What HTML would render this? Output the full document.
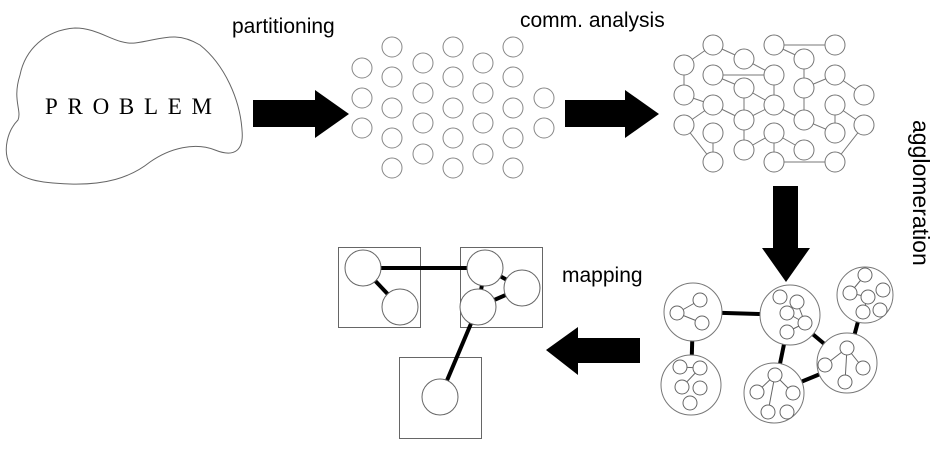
<!DOCTYPE html>
<html><head><meta charset="utf-8"><style>
html,body{margin:0;padding:0;background:#fff;}
svg{display:block;}
text{font-family:"Liberation Sans",Arial,sans-serif;fill:#000;}
</style></head><body>
<svg width="941" height="451" viewBox="0 0 941 451" xmlns="http://www.w3.org/2000/svg">
<rect width="941" height="451" fill="#fff"/>
<path d="M20,75 C25,50 45,30 75,28 C100,28 115,45 135,43 C160,40 175,30 200,45 C225,65 240,100 242,130 C244,150 235,158 215,150 C195,142 170,148 150,162 C130,178 105,185 70,184 C40,183 20,180 10,165 C2,150 8,130 18,120 C22,110 12,100 20,75 Z" fill="none" stroke="#666" stroke-width="1"/>
<text x="45" y="114" style="font-family:'Liberation Serif',serif" font-size="23" textLength="167" lengthAdjust="spacing">PROBLEM</text>

<text x="232" y="33" font-size="21">partitioning</text>
<text x="520" y="27" font-size="21">comm. analysis</text>
<text x="562" y="282" font-size="21">mapping</text>
<text transform="translate(913,120) rotate(90)" x="0" y="0" font-size="23">agglomeration</text>

<polygon points="253,100 315,100 315,90 349,114 315,138 315,127 253,127" fill="#000"/>
<polygon points="565,100 625,100 625,90 659,114 625,138 625,127 565,127" fill="#000"/>
<polygon points="773,186 798,186 798,248 810,248 786,282 762,248 773,248" fill="#000"/>
<polygon points="640,338 578,338 578,327 546,350 578,375 578,363 640,363" fill="#000"/>

<g fill="none" stroke="#888" stroke-width="1">
<circle cx="362" cy="68" r="10"/><circle cx="362" cy="98" r="10"/><circle cx="362" cy="128" r="10"/>
<circle cx="392" cy="47" r="10"/><circle cx="392" cy="77" r="10"/><circle cx="392" cy="108" r="10"/><circle cx="392" cy="138" r="10"/><circle cx="392" cy="168" r="10"/>
<circle cx="423" cy="63" r="10"/><circle cx="423" cy="93" r="10"/><circle cx="423" cy="123" r="10"/><circle cx="423" cy="154" r="10"/>
<circle cx="453" cy="47" r="10"/><circle cx="453" cy="77" r="10"/><circle cx="453" cy="108" r="10"/><circle cx="453" cy="138" r="10"/><circle cx="453" cy="168" r="10"/>
<circle cx="483" cy="63" r="10"/><circle cx="483" cy="93" r="10"/><circle cx="483" cy="123" r="10"/><circle cx="483" cy="154" r="10"/>
<circle cx="513" cy="47" r="10"/><circle cx="513" cy="77" r="10"/><circle cx="513" cy="108" r="10"/><circle cx="513" cy="138" r="10"/><circle cx="513" cy="168" r="10"/>
<circle cx="544" cy="98" r="10"/><circle cx="544" cy="128" r="10"/>
</g>

<g stroke="#777" stroke-width="1">
<line x1="774" y1="45" x2="835" y2="45"/><line x1="684" y1="65" x2="713" y2="45"/><line x1="713" y1="45" x2="744" y2="59"/>
<line x1="744" y1="59" x2="774" y2="75"/><line x1="713" y1="75" x2="774" y2="75"/><line x1="684" y1="65" x2="684" y2="95"/>
<line x1="774" y1="45" x2="804" y2="59"/><line x1="804" y1="59" x2="804" y2="88"/><line x1="804" y1="88" x2="835" y2="75"/>
<line x1="835" y1="75" x2="864" y2="95"/><line x1="713" y1="75" x2="744" y2="88"/><line x1="774" y1="75" x2="774" y2="105"/>
<line x1="744" y1="88" x2="774" y2="105"/><line x1="744" y1="88" x2="744" y2="120"/><line x1="684" y1="95" x2="713" y2="105"/>
<line x1="713" y1="105" x2="744" y2="120"/><line x1="744" y1="120" x2="774" y2="105"/><line x1="774" y1="105" x2="804" y2="120"/>
<line x1="804" y1="88" x2="804" y2="120"/><line x1="835" y1="105" x2="835" y2="133"/><line x1="835" y1="105" x2="864" y2="125"/>
<line x1="804" y1="120" x2="835" y2="133"/><line x1="684" y1="125" x2="713" y2="162"/><line x1="713" y1="133" x2="713" y2="162"/>
<line x1="744" y1="120" x2="744" y2="150"/><line x1="744" y1="150" x2="774" y2="133"/><line x1="774" y1="133" x2="804" y2="150"/>
<line x1="774" y1="133" x2="774" y2="162"/><line x1="774" y1="162" x2="835" y2="162"/><line x1="835" y1="162" x2="864" y2="125"/>
<line x1="684" y1="125" x2="713" y2="105"/>
</g>
<g fill="#fff" stroke="#777" stroke-width="1">
<circle cx="713" cy="45" r="10"/><circle cx="774" cy="45" r="10"/><circle cx="835" cy="45" r="10"/>
<circle cx="684" cy="65" r="10"/><circle cx="744" cy="59" r="10"/><circle cx="804" cy="59" r="10"/>
<circle cx="713" cy="75" r="10"/><circle cx="774" cy="75" r="10"/><circle cx="835" cy="75" r="10"/>
<circle cx="684" cy="95" r="10"/><circle cx="744" cy="88" r="10"/><circle cx="804" cy="88" r="10"/><circle cx="864" cy="95" r="10"/>
<circle cx="713" cy="105" r="10"/><circle cx="774" cy="105" r="10"/><circle cx="835" cy="105" r="10"/>
<circle cx="684" cy="125" r="10"/><circle cx="744" cy="120" r="10"/><circle cx="804" cy="120" r="10"/><circle cx="864" cy="125" r="10"/>
<circle cx="713" cy="133" r="10"/><circle cx="774" cy="133" r="10"/><circle cx="835" cy="133" r="10"/>
<circle cx="744" cy="150" r="10"/><circle cx="804" cy="150" r="10"/>
<circle cx="713" cy="162" r="10"/><circle cx="774" cy="162" r="10"/><circle cx="835" cy="162" r="10"/>
</g>

<g stroke="#000" stroke-width="4">
<line x1="693" y1="312" x2="790" y2="315"/><line x1="693" y1="312" x2="691" y2="385"/>
<line x1="790" y1="315" x2="774" y2="393"/><line x1="790" y1="315" x2="847" y2="363"/>
<line x1="865" y1="295" x2="847" y2="363"/><line x1="774" y1="393" x2="847" y2="363"/>
</g>
<g fill="#fff" stroke="#777" stroke-width="1">
<circle cx="693" cy="312" r="29"/><circle cx="790" cy="315" r="30"/><circle cx="865" cy="295" r="28"/>
<circle cx="691" cy="385" r="30"/><circle cx="774" cy="393" r="30"/><circle cx="847" cy="363" r="30"/>
</g>
<g stroke="#666" stroke-width="1">
<line x1="700" y1="300" x2="677" y2="313"/><line x1="677" y1="313" x2="702" y2="323"/>
<line x1="797" y1="302" x2="805" y2="323"/><line x1="787" y1="313" x2="805" y2="323"/><line x1="787" y1="332" x2="805" y2="323"/>
<line x1="865" y1="275" x2="850" y2="293"/><line x1="850" y1="293" x2="868" y2="297"/><line x1="868" y1="297" x2="863" y2="312"/>
<line x1="680" y1="367" x2="700" y2="368"/><line x1="700" y1="368" x2="682" y2="387"/>
<line x1="775" y1="375" x2="757" y2="392"/><line x1="775" y1="375" x2="768" y2="412"/><line x1="775" y1="375" x2="793" y2="393"/>
<line x1="847" y1="348" x2="845" y2="382"/><line x1="847" y1="348" x2="825" y2="365"/><line x1="847" y1="348" x2="863" y2="368"/>
</g>
<g fill="#fff" stroke="#666" stroke-width="1">
<circle cx="700" cy="300" r="7"/><circle cx="677" cy="313" r="7"/><circle cx="702" cy="323" r="7"/>
<circle cx="780" cy="297" r="7"/><circle cx="797" cy="302" r="7"/><circle cx="787" cy="313" r="7"/><circle cx="805" cy="323" r="7"/><circle cx="787" cy="332" r="7"/>
<circle cx="865" cy="275" r="7"/><circle cx="850" cy="293" r="7"/><circle cx="868" cy="297" r="7"/><circle cx="883" cy="290" r="7"/><circle cx="863" cy="312" r="7"/><circle cx="880" cy="310" r="7"/>
<circle cx="680" cy="367" r="7"/><circle cx="700" cy="368" r="7"/><circle cx="682" cy="387" r="7"/><circle cx="700" cy="388" r="7"/><circle cx="690" cy="403" r="7"/>
<circle cx="775" cy="375" r="7"/><circle cx="757" cy="392" r="7"/><circle cx="793" cy="393" r="7"/><circle cx="768" cy="412" r="7"/><circle cx="787" cy="412" r="7"/>
<circle cx="847" cy="348" r="7"/><circle cx="825" cy="365" r="7"/><circle cx="863" cy="368" r="7"/><circle cx="845" cy="382" r="7"/>
</g>

<g fill="none" stroke="#666" stroke-width="1">
<rect x="338.5" y="247.5" width="82" height="80"/>
<rect x="460.5" y="247.5" width="82" height="80"/>
<rect x="399.5" y="357.5" width="82" height="81"/>
</g>
<g stroke="#000" stroke-width="4">
<line x1="363" y1="268" x2="485" y2="268"/><line x1="363" y1="268" x2="400" y2="307"/>
<line x1="485" y1="268" x2="478" y2="307"/><line x1="485" y1="268" x2="522" y2="288"/><line x1="478" y1="307" x2="522" y2="288"/>
<line x1="478" y1="307" x2="440" y2="397"/>
</g>
<g fill="#fff" stroke="#666" stroke-width="1">
<circle cx="363" cy="268" r="18"/><circle cx="400" cy="307" r="18"/>
<circle cx="485" cy="268" r="18"/><circle cx="522" cy="288" r="18"/><circle cx="478" cy="307" r="18"/>
<circle cx="440" cy="397" r="18"/>
</g>
</svg>
</body></html>
